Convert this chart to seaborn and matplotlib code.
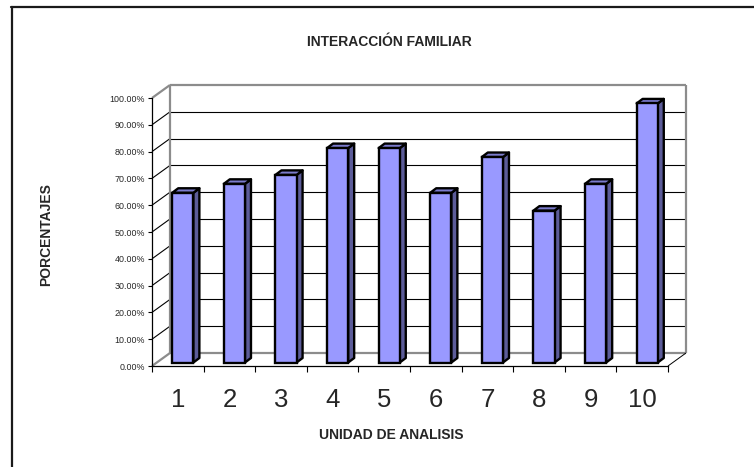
import numpy as np
import pandas as pd
import matplotlib
matplotlib.use("Agg")
import matplotlib.pyplot as plt
import matplotlib.transforms as mtransforms
from matplotlib.patches import Polygon
from matplotlib.lines import Line2D
import seaborn as sns

# ---- data ----
categories = ["1", "2", "3", "4", "5", "6", "7", "8", "9", "10"]
values = [63.33, 66.67, 70.00, 80.00, 80.00, 63.33, 76.67, 56.67, 66.67, 96.67]
y_ticks = [0, 10, 20, 30, 40, 50, 60, 70, 80, 90, 100]
title = "INTERACCIÓN FAMILIAR"
xlabel = "UNIDAD DE ANALISIS"
ylabel = "PORCENTAJES"

sns.set_theme(style="white")
plt.rcParams["font.family"] = ["Liberation Sans", "DejaVu Sans"]

W, H = 754, 467
DPI = 100
fig = plt.figure(figsize=(W / DPI, H / DPI), dpi=DPI)
fig.patch.set_facecolor("white")

# front plane of the axes (pixels)
x0p, x1p = 152, 668
y0p, y1p = 366, 98
ax = fig.add_axes([x0p / W, (H - y0p) / H, (x1p - x0p) / W, (y0p - y1p) / H])
ax.set_facecolor("none")

df = pd.DataFrame({"unidad": categories, "pct": values})
sns.barplot(data=df, x="unidad", y="pct", color="#9999FF", width=0.41,
            edgecolor="black", linewidth=1.7, saturation=1, ax=ax, zorder=5)
ax.set_xlim(-0.5, len(categories) - 0.5)
ax.set_ylim(0, 100)
ax.set_xlabel("")
ax.set_ylabel("")

# spines
for s in ["top", "right"]:
    ax.spines[s].set_visible(False)
for s in ["left", "bottom"]:
    ax.spines[s].set_color("black")
    ax.spines[s].set_linewidth(0.9)
    ax.spines[s].set_zorder(6)

ax.set_yticks(y_ticks)
ax.set_yticklabels([f"{v:.2f}%" for v in y_ticks], fontsize=6.4)
ax.tick_params(axis="y", direction="out", length=3, width=0.8, color="black", pad=2, left=True)
ax.set_xticks(range(len(categories)))
ax.set_xticklabels(categories, fontsize=18.5)
ax.set_xticks(np.arange(-0.5, len(categories), 1.0), minor=True)
ax.tick_params(axis="x", which="major", length=0, pad=15.5)
ax.tick_params(axis="x", which="minor", direction="out", length=4, width=0.8, color="black", bottom=True)
ax.grid(False)

fig.canvas.draw()
T = ax.transData
ident = mtransforms.IdentityTransform()
DEPTH = np.array([18.0, 13.0])
FRONT = np.array([5.0, 3.5])
BARD = np.array([6.0, 4.5])

def P(xd, yd, depth=0.0):
    return T.transform((xd, yd)) + depth * DEPTH

xa, xb = -0.5, len(categories) - 0.5

def line(p, q, color, lw, z):
    ax.add_line(Line2D([p[0], q[0]], [p[1], q[1]], transform=ident, color=color,
                       lw=lw, zorder=z, clip_on=False, solid_capstyle="butt"))

# back wall and side wall grid lines
for v in y_ticks[1:-1]:
    line(P(xa, v, 1), P(xb, v, 1), "black", 0.8, 1)
    line(P(xa, v, 0), P(xa, v, 1), "black", 0.8, 1)
grey = "#8c8c8c"
line(P(xa, 100, 1), P(xb, 100, 1), grey, 1.6, 2)
line(P(xa, 0, 1), P(xb, 0, 1), grey, 1.6, 2)
line(P(xa, 0, 1), P(xa, 100, 1), grey, 1.6, 2)
line(P(xb, 0, 1), P(xb, 100, 1), grey, 1.6, 2)
line(P(xa, 100, 0), P(xa, 100, 1), grey, 1.6, 2)
line(P(xa, 0, 0), P(xa, 0, 1), grey, 1.6, 2)
line(P(xb, 0, 0), P(xb, 0, 1), "black", 0.7, 2)

# 3D bars: offset front faces and add side / top faces
off_tr = mtransforms.offset_copy(T, fig=fig, x=FRONT[0], y=FRONT[1], units="dots")
for p in list(ax.patches):
    bx, bw, bh = p.get_x(), p.get_width(), p.get_height()
    p.set_transform(off_tr)
    A = T.transform((bx + bw, 0)) + FRONT
    B = T.transform((bx + bw, bh)) + FRONT
    C = T.transform((bx, bh)) + FRONT
    side = Polygon([A, B, B + BARD, A + BARD], closed=True, transform=ident,
                   facecolor="#5C5C99", edgecolor="black", lw=1.7, zorder=4,
                   joinstyle="round", clip_on=False)
    top = Polygon([C, B, B + BARD, C + BARD], closed=True, transform=ident,
                  facecolor="#7B7BCC", edgecolor="black", lw=1.7, zorder=4,
                  joinstyle="round", clip_on=False)
    ax.add_patch(side)
    ax.add_patch(top)

# texts
fig.text(389 / W, 1 - 42 / H, title, ha="center", va="center", fontsize=10, weight="bold")
fig.text(391.5 / W, 1 - 435 / H, xlabel, ha="center", va="center", fontsize=10, weight="bold")
fig.text(46.5 / W, 1 - 235 / H, ylabel, ha="center", va="center", fontsize=10,
         weight="bold", rotation=90)

# outer frame (top and left edges visible)
fig.add_artist(Line2D([11 / W, 1.0], [1 - 7 / H, 1 - 7 / H], transform=fig.transFigure,
                      color="#1a1a1a", lw=1.6))
fig.add_artist(Line2D([11.5 / W, 11.5 / W], [0.0, 1 - 6.5 / H], transform=fig.transFigure,
                      color="#1a1a1a", lw=1.6))

fig.savefig("out.png", dpi=DPI)
